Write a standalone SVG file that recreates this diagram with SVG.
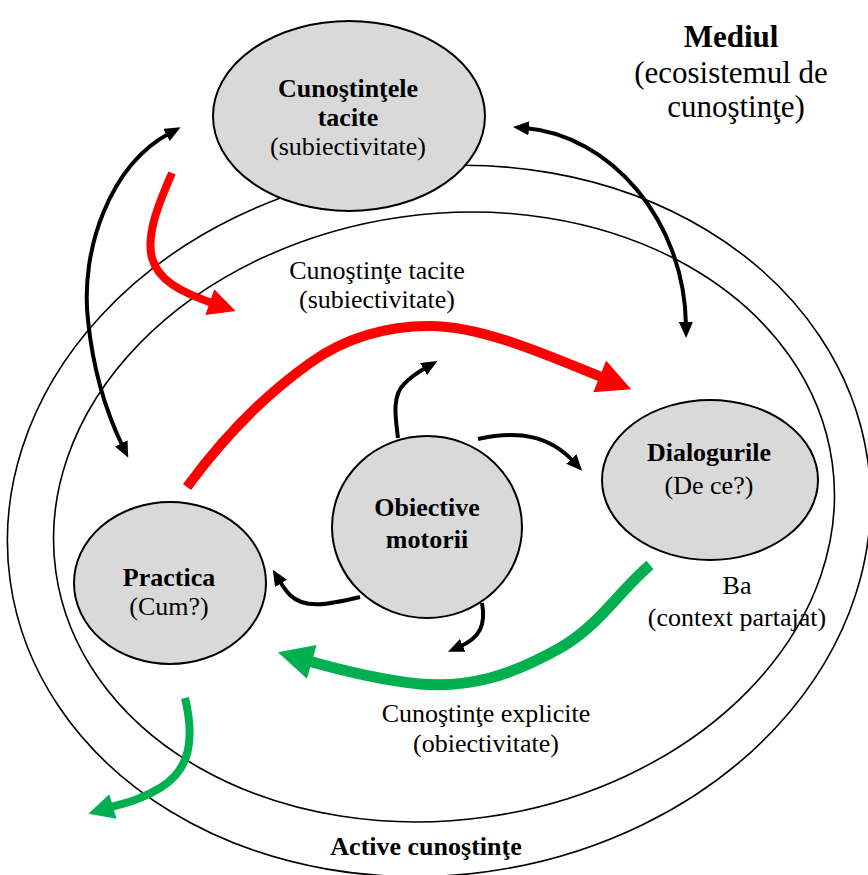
<svg xmlns="http://www.w3.org/2000/svg" width="868" height="875" viewBox="0 0 868 875">
<style>
.ring{fill:none;stroke:#000;stroke-width:1.6}
.node{fill:#d9d9d9;stroke:#000;stroke-width:2}
text{font-family:"Liberation Serif","Times New Roman",serif;font-size:26px;fill:#000;text-anchor:middle}
.b{font-weight:bold}
.big{font-size:31px}
.blk{fill:none;stroke:#000;stroke-width:4;marker-end:url(#ah)}
.dbl{marker-start:url(#ah)}
.red{fill:none;stroke:#ff0000;marker-end:url(#rh)}
.grn{fill:none;stroke:#00b050;marker-end:url(#gh)}
</style>
<defs>
<marker id="ah" markerUnits="userSpaceOnUse" viewBox="0 0 16 14" markerWidth="16" markerHeight="14" refX="4" refY="7" orient="auto-start-reverse">
<path d="M0,0 L16,7 L0,14 z" fill="#000"/>
</marker>
<marker id="rh" markerUnits="strokeWidth" viewBox="0 0 10 10" markerWidth="3.5" markerHeight="3.4" refX="2" refY="5" orient="auto">
<path d="M0,0 L10,5 L0,10 z" fill="#ff0000"/>
</marker>
<marker id="gh" markerUnits="strokeWidth" viewBox="0 0 10 10" markerWidth="3.3" markerHeight="3.2" refX="2" refY="5" orient="auto">
<path d="M0,0 L10,5 L0,10 z" fill="#00b050"/>
</marker>
</defs>
<g id="rings">
<ellipse class="ring" cx="439" cy="521" rx="433" ry="354" transform="rotate(-8 439 521)"/>
<ellipse class="ring" cx="444" cy="517" rx="392" ry="303" transform="rotate(-8 444 517)"/>
</g>
<g id="labels">
<text x="731" y="47" class="b big">Mediul</text>
<text x="731" y="83" class="big">(ecosistemul de</text>
<text x="736" y="117" class="big">cunoştinţe)</text>
<text x="377" y="279">Cunoştinţe tacite</text>
<text x="377" y="308">(subiectivitate)</text>
<text x="737" y="594">Ba</text>
<text x="737" y="626">(context partajat)</text>
<text x="486" y="722">Cunoştinţe explicite</text>
<text x="486" y="752">(obiectivitate)</text>
<text x="426" y="855" class="b">Active cunoştinţe</text>
</g>
<g id="node-tacite">
<ellipse class="node" cx="349" cy="116" rx="136" ry="95"/>
<text x="348" y="97" class="b">Cunoştinţele</text>
<text x="348" y="126" class="b">tacite</text>
<text x="348" y="155">(subiectivitate)</text>
</g>
<g id="node-dialogurile">
<ellipse class="node" cx="710" cy="480" rx="108" ry="80"/>
<text x="709" y="461" class="b">Dialogurile</text>
<text x="709" y="494">(De ce?)</text>
</g>
<g id="node-obiective">
<ellipse class="node" cx="427" cy="527" rx="95" ry="91"/>
<text x="427" y="516" class="b">Obiective</text>
<text x="427" y="548" class="b">motorii</text>
</g>
<g id="node-practica">
<ellipse class="node" cx="170" cy="583" rx="96" ry="81"/>
<text x="169" y="586" class="b">Practica</text>
<text x="169" y="615">(Cum?)</text>
</g>
<g id="connectors">
<path class="blk dbl" d="M170,133 C110,165 80,250 88,320 C93,370 105,410 123,447"/>
<path class="blk dbl" d="M525,128 C610,135 685,220 686,326"/>
<path class="red" stroke-width="8" d="M172,173 C158,205 146,235 152,258 C158,280 180,292 215,304"/>
<path class="red" stroke-width="10" d="M187,487 C225,435 265,395 310,363 C345,338 385,326 430,326 C480,326 540,352 606,379"/>
<path class="grn" stroke-width="11" d="M650,565 C620,590 600,625 560,648 C510,676 470,688 420,684 C380,680 340,670 305,660"/>
<path class="grn" stroke-width="8" d="M185,698 C195,740 190,770 160,788 C140,800 125,803 108,808"/>
<path class="blk" d="M398,438 C395,415 392,395 405,383 C412,376 420,371 427,367"/>
<path class="blk" d="M478,439 C520,430 550,436 574,462"/>
<path class="blk" d="M360,597 C330,604 305,610 290,595 C285,590 282,585 279,580"/>
<path class="blk" d="M482,603 C486,625 480,638 459,647"/>
</g>
</svg>
